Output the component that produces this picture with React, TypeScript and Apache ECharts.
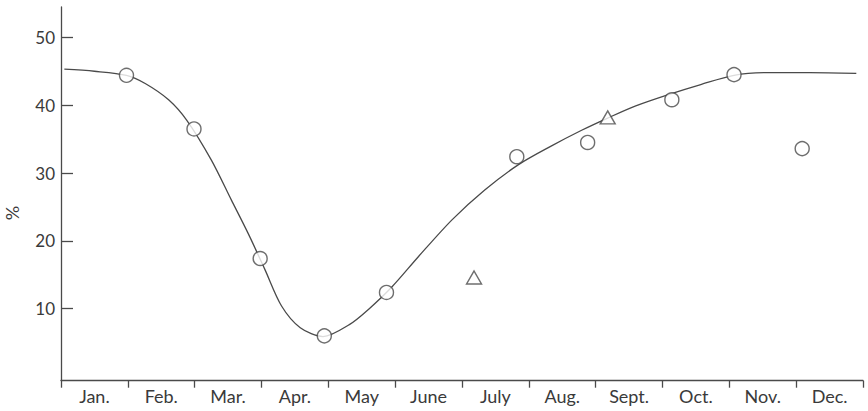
import React, { useEffect, useRef } from "react";
import * as echarts from "echarts";

const months = ["Jan.", "Feb.", "Mar.", "Apr.", "May", "June", "July", "Aug.", "Sept.", "Oct.", "Nov.", "Dec."];
const yTicks = [10, 20, 30, 40, 50];

// fitted curve drawn through the observations: [month position, %]
const curvePoints: [number, number][] = [
  [0.05, 45.3], [0.5, 45.0], [0.98, 44.4], [1.26, 43.2], [1.61, 40.8], [1.88, 37.8],
  [2.25, 31.9], [2.55, 26.0], [2.8, 21.1], [3.05, 15.8], [3.3, 10.4], [3.58, 7.2],
  [3.92, 5.9], [4.32, 7.7], [4.6, 9.9], [4.95, 13.2], [5.35, 17.7], [5.85, 23.1],
  [6.34, 27.5], [6.84, 31.2], [7.34, 34.0], [7.79, 36.3], [8.18, 38.1], [8.6, 39.9],
  [9.1, 41.6], [9.56, 43.0], [10.07, 44.4], [10.6, 44.8], [11.2, 44.8], [11.9, 44.7],
];

// circle observations
const circlePoints: [number, number][] = [
  [0.98, 44.4], [1.99, 36.5], [2.98, 17.4], [3.94, 6.0], [4.87, 12.4],
  [6.82, 32.4], [7.88, 34.5], [9.14, 40.8], [10.07, 44.5], [11.09, 33.6],
];

// triangle observations
const trianglePoints: [number, number][] = [
  [6.18, 14.6], [8.18, 38.2],
];

const INK = "#4a4a4a";
const TEXT = "#3a3a3a";
const FONT = "Lato";

export default function App() {
  const ref = useRef<HTMLDivElement>(null);

  useEffect(() => {
    document.body.style.margin = "0";
    if (!ref.current) return;
    const chart = echarts.init(ref.current, undefined, { renderer: "svg" });
    chart.setOption({
      animation: false,
      backgroundColor: "#ffffff",
      grid: { left: 61, right: 5, top: 7, bottom: 30.3, containLabel: false },
      xAxis: [
        {
          type: "category",
          data: months,
          boundaryGap: true,
          axisLine: { onZero: false, lineStyle: { color: INK, width: 1.3 } },
          axisTick: { show: true, inside: false, length: 7, alignWithLabel: false, lineStyle: { color: INK, width: 1.3 } },
          axisLabel: { color: TEXT, fontFamily: FONT, fontSize: 18, margin: 6 },
          splitLine: { show: false },
        },
        {
          type: "value",
          min: 0,
          max: 12,
          show: false,
          splitLine: { show: false },
        },
      ],
      yAxis: {
        type: "value",
        min: -0.61,
        max: 54.47,
        axisLine: { show: true, onZero: false, lineStyle: { color: INK, width: 1.3 } },
        axisTick: { show: true, inside: true, length: 12, customValues: yTicks, lineStyle: { color: INK, width: 1.3 } },
        axisLabel: { color: TEXT, fontFamily: FONT, fontSize: 17, margin: 6, customValues: yTicks },
        splitLine: { show: false },
      },
      graphic: [
        {
          type: "text",
          x: 12,
          y: 213,
          rotation: Math.PI / 2,
          style: { text: "%", fill: TEXT, font: `18px ${FONT}`, textAlign: "center", textVerticalAlign: "middle" },
        },
      ],
      series: [
        {
          type: "line",
          xAxisIndex: 1,
          data: curvePoints,
          smooth: 0.3,
          showSymbol: false,
          symbol: "none",
          lineStyle: { color: INK, width: 1.3 },
          z: 2,
        },
        {
          type: "scatter",
          xAxisIndex: 1,
          data: circlePoints,
          symbol: "circle",
          symbolSize: 14,
          itemStyle: { color: "#ffffff", borderColor: INK, borderWidth: 1.4 },
          z: 3,
        },
        {
          type: "scatter",
          xAxisIndex: 1,
          data: trianglePoints,
          symbol: "triangle",
          symbolSize: [15, 13],
          itemStyle: { color: "#ffffff", borderColor: INK, borderWidth: 1.4 },
          z: 3,
        },
      ],
    });
    return () => chart.dispose();
  }, []);

  return <div ref={ref} style={{ width: 868, height: 411 }} />;
}
